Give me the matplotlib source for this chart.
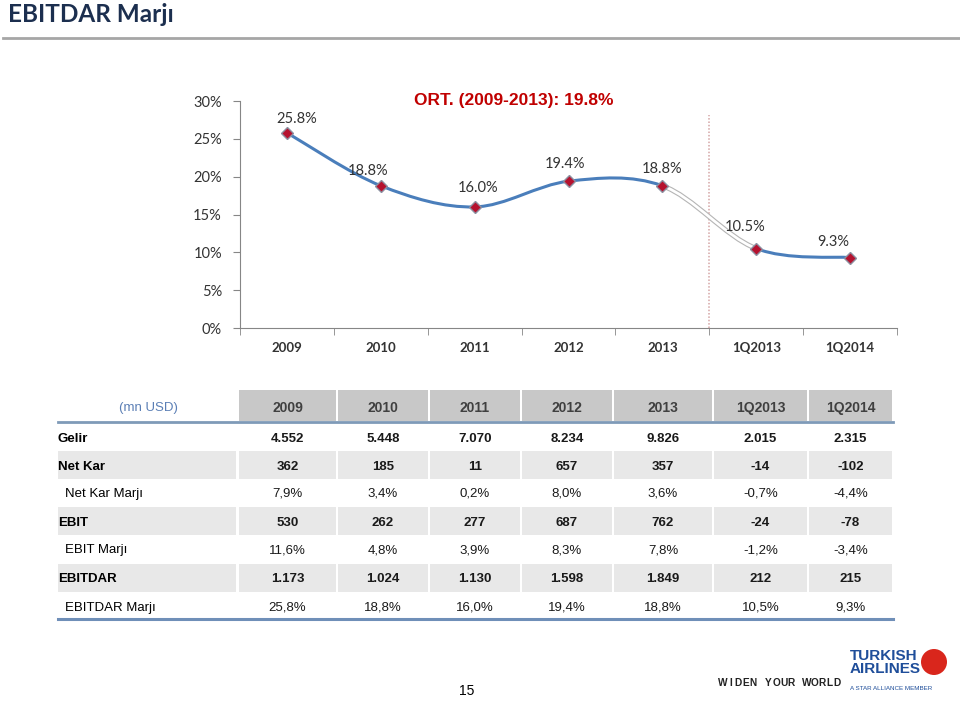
import matplotlib.pyplot as plt
from matplotlib.path import Path
from matplotlib.patches import PathPatch, Rectangle, Circle
import numpy as np

# chart data
kategoriler = ['2009', '2010', '2011', '2012', '2013', '1Q2013', '1Q2014']
ebitdar_marj = [25.8, 18.8, 16.0, 19.4, 18.8, 10.5, 9.3]
ortalama = 19.8

# table data
tablo_kolon = ['2009', '2010', '2011', '2012', '2013', '1Q2013', '1Q2014']
satirlar = ['Gelir', 'Net Kar', 'Net Kar Marjı', 'EBIT', 'EBIT Marjı', 'EBITDAR', 'EBITDAR Marjı']
gelir = ['4.552', '5.448', '7.070', '8.234', '9.826', '2.015', '2.315']
net_kar = ['362', '185', '11', '657', '357', '-14', '-102']
net_kar_marj = ['7,9%', '3,4%', '0,2%', '8,0%', '3,6%', '-0,7%', '-4,4%']
ebit = ['530', '262', '277', '687', '762', '-24', '-78']
ebit_marj = ['11,6%', '4,8%', '3,9%', '8,3%', '7,8%', '-1,2%', '-3,4%']
ebitdar = ['1.173', '1.024', '1.130', '1.598', '1.849', '212', '215']
ebitdar_marj_txt = ['25,8%', '18,8%', '16,0%', '19,4%', '18,8%', '10,5%', '9,3%']
tablo = [gelir, net_kar, net_kar_marj, ebit, ebit_marj, ebitdar, ebitdar_marj_txt]

W, H = 960, 701
fig = plt.figure(figsize=(W / 100, H / 100), dpi=100)

# background axes in pixel coords
bg = fig.add_axes([0, 0, 1, 1])
bg.set_xlim(0, W)
bg.set_ylim(H, 0)
bg.axis('off')

bg.text(8, 15, 'EBITDAR Marjı', fontsize=17.5, fontweight='bold', color='#1c2f4f',
        family='Lato', va='center', ha='left')
bg.plot([3, 960], [38, 38], color='#a6a6a6', lw=2)

# chart axes
x0, x1, ytop, ybot = 240, 897, 101, 328
ax = fig.add_axes([x0 / W, 1 - ybot / H, (x1 - x0) / W, (ybot - ytop) / H])
ax.set_xlim(-0.5, len(kategoriler) - 0.5)
ax.set_ylim(0, 30)
ax.patch.set_alpha(0)
for s in ['top', 'right']:
    ax.spines[s].set_visible(False)
for s in ['left', 'bottom']:
    ax.spines[s].set_color('#868686')
ax.set_yticks(range(0, 31, 5))
ax.set_yticklabels([f'{v}%' for v in range(0, 31, 5)], fontsize=10.5, family='Lato', color='#333333')
ax.set_xticks(range(len(kategoriler)))
ax.set_xticklabels(kategoriler, fontsize=9.5, fontweight='bold', family='Lato', color='#333333')
ax.set_xticks(np.arange(-0.5, len(kategoriler), 1), minor=True)
ax.tick_params(axis='x', which='major', length=0, pad=10)
ax.tick_params(axis='x', which='minor', length=5, color='#868686', direction='out')
ax.tick_params(axis='y', length=5, color='#868686', pad=8)

# smoothed line (Excel-like bezier)
xs = np.arange(len(ebitdar_marj))
pts = np.column_stack([xs, ebitdar_marj])
def seg_path(i):
    p0 = pts[max(i - 1, 0)]
    p1 = pts[i]
    p2 = pts[i + 1]
    p3 = pts[min(i + 2, len(pts) - 1)]
    c1 = p1 + (p2 - p0) / 6
    c2 = p2 - (p3 - p1) / 6
    return [p1, c1, c2, p2]

def make_path(i_start, i_end):
    verts, codes = [], []
    for i in range(i_start, i_end):
        v = seg_path(i)
        if not verts:
            verts.append(v[0]); codes.append(Path.MOVETO)
        verts += v[1:]
        codes += [Path.CURVE4] * 3
    return Path(verts, codes)

mavi = '#4a7ebb'
ax.add_patch(PathPatch(make_path(0, 4), fill=False, ec=mavi, lw=2.2, zorder=3))
ax.add_patch(PathPatch(make_path(5, 6), fill=False, ec=mavi, lw=2.2, zorder=3))
ax.add_patch(PathPatch(make_path(4, 5), fill=False, ec='#b5b5b5', lw=3.6, zorder=3))
ax.add_patch(PathPatch(make_path(4, 5), fill=False, ec='white', lw=2.0, zorder=3))

ax.plot(xs, ebitdar_marj, ls='none', marker='D', ms=6.5, mfc='#b5122f', mec='#8c8fa0', mew=1, zorder=4)

# divider
ax.plot([4.5, 4.5], [0, 28.2], color='#d4a5a5', lw=1.1, ls=(0, (1, 1.2)), zorder=2)

# data labels (offset in pixels)
ofs = [(10, 14), (-13, 15), (3, 19), (-3, 17), (0, 17), (-11, 22), (-17, 16)]
for x, v, o in zip(xs, ebitdar_marj, ofs):
    ax.annotate(f'{v:.1f}%', (x, v), xytext=o, textcoords='offset pixels', ha='center', va='center',
                fontsize=10.5, family='Lato', color='#333333', zorder=5)

bg.text(514, 101, f'ORT. (2009-2013): {ortalama:.1f}%', fontsize=12.5, fontweight='bold', color='#c00000',
        family='Liberation Sans', ha='center', va='center')

# table
edges = [238, 337, 429, 521, 613, 713, 808, 893]
hy0, hy1 = 390, 421
for i in range(len(tablo_kolon)):
    bg.add_patch(Rectangle((edges[i] + 1, hy0), edges[i + 1] - edges[i] - 2, hy1 - hy0,
                           fc='#c8c8c8', ec='none'))
    bg.text((edges[i] + edges[i + 1]) / 2, (hy0 + hy1) / 2 + 1, tablo_kolon[i], ha='center',
            va='center_baseline', fontsize=10, fontweight='bold', color='#404040', family='Liberation Sans')
bg.text(148, 406, '(mn USD)', ha='center', va='center_baseline', fontsize=9.5, color='#5b7fb5',
        family='Liberation Sans')
bg.plot([58, 893], [422, 422], color='#7f9ab8', lw=2)

row_y = [437, 465, 492, 521, 549, 578, 606]
kalin = [True, True, False, True, False, True, False]
gri = [False, True, False, True, False, True, False]
for r, (ad, yy) in enumerate(zip(satirlar, row_y)):
    if gri[r]:
        bg.add_patch(Rectangle((58, yy - 14), 178, 28, fc='#e8e8e8', ec='none'))
        for i in range(len(tablo_kolon)):
            bg.add_patch(Rectangle((edges[i] + 1, yy - 14), edges[i + 1] - edges[i] - 2, 28,
                                   fc='#e8e8e8', ec='none'))
    fw = 'bold' if kalin[r] else 'normal'
    bg.text(58 if kalin[r] else 65, yy, ad, ha='left', va='center_baseline', fontsize=9.5, fontweight=fw,
            color='black', family='Liberation Sans')
    for i, val in enumerate(tablo[r]):
        bg.text((edges[i] + edges[i + 1]) / 2, yy, val, ha='center', va='center_baseline', fontsize=9.5,
                fontweight=fw, color='#1a1a1a', family='Liberation Sans')
bg.plot([58, 893], [619, 619], color='#6f8fb8', lw=2.2)

# footer
bg.text(467, 691, '15', ha='center', va='center', fontsize=10, family='Liberation Sans')
slogan = 'WIDEN YOUR WORLD'
for k, ch in enumerate(slogan):
    bg.text(723 + k * 7.6, 683, ch, ha='center', va='center', fontsize=7.3, fontweight='bold',
            color='#222222', family='Liberation Sans')
bg.text(850, 656, 'TURKISH', ha='left', va='center', fontsize=11, fontweight='bold', color='#1f4e9a',
        family='Liberation Sans')
bg.text(850, 669, 'AIRLINES', ha='left', va='center', fontsize=11, fontweight='bold', color='#1f4e9a',
        family='Liberation Sans')
bg.text(850, 688, 'A STAR ALLIANCE MEMBER', ha='left', va='center', fontsize=4.5, color='#1f4e9a',
        family='Liberation Sans')
bg.add_patch(Circle((934, 662), 13, fc='#d9261c', ec='none'))

fig.savefig('out.png', dpi=100)
